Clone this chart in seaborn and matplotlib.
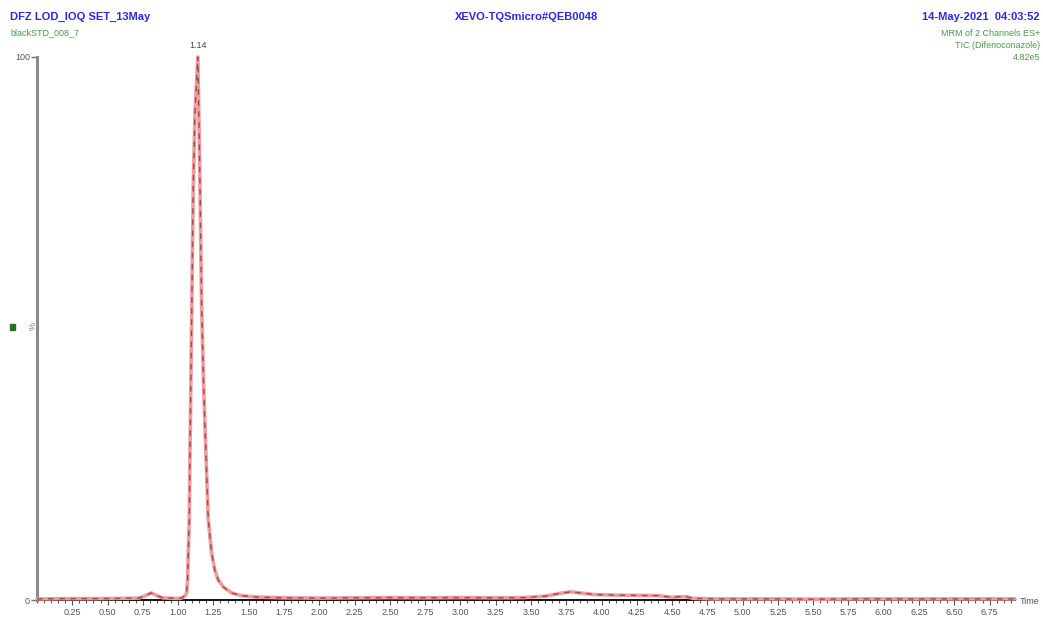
import matplotlib
matplotlib.use("Agg")
import matplotlib.pyplot as plt
import seaborn as sns
import numpy as np
import pandas as pd
from matplotlib.ticker import MultipleLocator, FixedLocator

# ---- data ----
time_min = [0.00, 0.20, 0.40, 0.60, 0.72, 0.76, 0.81, 0.85, 0.89, 0.93, 0.98, 1.02,
            1.050, 1.060, 1.067, 1.072, 1.079, 1.084, 1.096, 1.107, 1.120, 1.140,
            1.154, 1.166, 1.180, 1.197, 1.213, 1.237, 1.260, 1.284, 1.320, 1.379,
            1.450, 1.550, 1.750, 2.00, 2.25, 2.50, 2.75, 3.00, 3.25, 3.45, 3.60,
            3.70, 3.78, 3.85, 3.95, 4.10, 4.25, 4.40, 4.50, 4.55, 4.60, 4.65, 4.80,
            5.00, 5.25, 5.50, 5.75, 6.00, 6.25, 6.50, 6.75, 6.93]
intensity = [0.2, 0.25, 0.25, 0.3, 0.35, 0.7, 1.3, 0.8, 0.4, 0.35, 0.3, 0.3,
             0.8, 1.3, 3.7, 8.7, 14.7, 27.0, 52.0, 76.0, 90.0, 100.0,
             78.0, 55.0, 40.0, 27.0, 15.0, 8.7, 5.5, 3.7, 2.4, 1.3,
             0.8, 0.55, 0.4, 0.35, 0.4, 0.45, 0.4, 0.45, 0.4, 0.45, 0.7,
             1.2, 1.5, 1.3, 1.0, 0.9, 0.85, 0.8, 0.5, 0.6, 0.6, 0.3, 0.2,
             0.2, 0.2, 0.15, 0.2, 0.2, 0.2, 0.2, 0.2, 0.2]
x_tick_values = [0.25, 0.50, 0.75, 1.00, 1.25, 1.50, 1.75, 2.00, 2.25, 2.50, 2.75,
                 3.00, 3.25, 3.50, 3.75, 4.00, 4.25, 4.50, 4.75, 5.00, 5.25, 5.50,
                 5.75, 6.00, 6.25, 6.50, 6.75]
x_tick_labels = ["%.2f" % v for v in x_tick_values]
y_tick_values = [0, 100]
y_tick_labels = ["0", "100"]
peak_rt = 1.14
peak_label = "1.14"

df = pd.DataFrame({"Time": time_min, "Intensity": intensity})

sns.set_style("white")
plt.rcParams['font.family'] = ['Liberation Sans', 'DejaVu Sans']

W, H = 1043, 619
fig = plt.figure(figsize=(W / 100, H / 100), dpi=100)
ax = fig.add_axes([37 / W, 19 / H, (1015 - 37) / W, 543 / H])

sns.lineplot(data=df, x="Time", y="Intensity", ax=ax, color="#f49a9a", lw=2.6,
             clip_on=False, zorder=3)
sns.lineplot(data=df, x="Time", y="Intensity", ax=ax, color="#7a3a48", lw=1.0,
             clip_on=False, zorder=4, linestyle=(0, (4, 4)), alpha=0.8)

ax.set_xlim(0, 6.93)
ax.set_ylim(0, 100)
ax.set_xlabel("")
ax.set_ylabel("")

for s in ["top", "right"]:
    ax.spines[s].set_visible(False)
ax.spines["left"].set_color("#8a8a8a")
ax.spines["left"].set_linewidth(2.2)
ax.spines["bottom"].set_color("#111111")
ax.spines["bottom"].set_linewidth(1.4)

ax.xaxis.set_major_locator(FixedLocator(x_tick_values))
ax.set_xticklabels(x_tick_labels)
ax.xaxis.set_minor_locator(MultipleLocator(0.05))
ax.tick_params(axis="x", which="both", bottom=True, direction="out",
               color="#555555", width=0.8)
ax.tick_params(axis="x", which="major", length=3.5, labelsize=6.5,
               labelcolor="#555555", pad=2)
ax.tick_params(axis="x", which="minor", length=2.5)
ax.set_yticks(y_tick_values)
ax.set_yticklabels(y_tick_labels)
ax.tick_params(axis="y", left=True, length=4, width=1.0, color="#777777",
               labelsize=6.5, labelcolor="#555555", pad=1)
ax.grid(False)

def px(x, y):
    return x / W, 1 - y / H

blue = "#2a2ae0"
green = "#4c9a4c"
fig.text(*px(10, 17), "DFZ LOD_IOQ SET_13May", color=blue, fontsize=8,
         fontweight="bold", va="center", ha="left")
fig.text(*px(10, 33), "blackSTD_008_7", color=green, fontsize=6.5,
         va="center", ha="left")
fig.text(*px(527, 17), "XEVO-TQSmicro#QEB0048", color=blue, fontsize=8,
         fontweight="bold", va="center", ha="center")
fig.text(*px(1040, 17), "14-May-2021  04:03:52", color=blue, fontsize=8,
         fontweight="bold", va="center", ha="right")
fig.text(*px(1040, 33), "MRM of 2 Channels ES+", color=green, fontsize=6.5,
         va="center", ha="right")
fig.text(*px(1040, 45), "TIC (Difenoconazole)", color=green, fontsize=6.5,
         va="center", ha="right")
fig.text(*px(1040, 57), "4.82e5", color=green, fontsize=6.5,
         va="center", ha="right")

ax.annotate(peak_label, xy=(peak_rt, 100), xytext=(0, 8),
            textcoords="offset points", ha="center", va="center",
            fontsize=6.5, color="#444444", annotation_clip=False)

fig.text(*px(1030, 601), "Time", color="#555555", fontsize=6.5,
         va="center", ha="center")
fig.text(*px(33, 326), "%", color="#777777", fontsize=6.5, rotation=90,
         va="center", ha="center")
fig.patches.append(plt.Rectangle(px(10, 330), 5 / W, 6 / H, color="#1a7a1a",
                                 transform=fig.transFigure, figure=fig))

fig.savefig("out.png", dpi=100, facecolor="white")
